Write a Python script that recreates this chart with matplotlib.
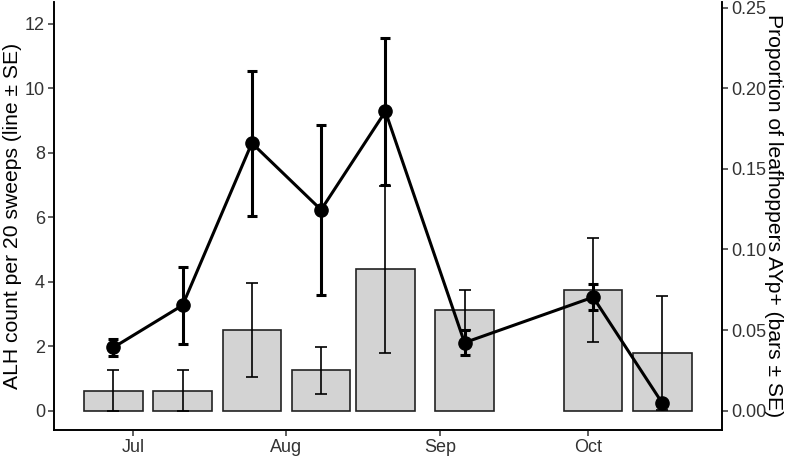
import numpy as np
import matplotlib
matplotlib.use('Agg')
import matplotlib.pyplot as plt
import matplotlib.dates as mdates

plt.rcParams['font.family'] = ['Liberation Sans', 'DejaVu Sans']

# sampling dates
dates = np.array(['2019-06-27', '2019-07-11', '2019-07-25', '2019-08-08',
                  '2019-08-21', '2019-09-06', '2019-10-02', '2019-10-16'],
                 dtype='datetime64[D]')

# ALH count per 20 sweeps (line)
alh_mean = [1.96, 3.27, 8.30, 6.23, 9.28, 2.11, 3.52, 0.23]
alh_se = [0.26, 1.20, 2.25, 2.63, 2.27, 0.38, 0.41, 0.0]

# proportion AYp+ (bars)
prop_mean = [0.0125, 0.0125, 0.050, 0.025, 0.0877, 0.0626, 0.0749, 0.036]
prop_se = [0.0125, 0.0125, 0.029, 0.0144, 0.0517, 0.0123, 0.0324, 0.0354]

tick_dates = np.array(['2019-07-01', '2019-08-01', '2019-09-01', '2019-10-01'],
                      dtype='datetime64[D]')
tick_labels = ['Jul', 'Aug', 'Sep', 'Oct']

fig = plt.figure(figsize=(7.87, 4.57), dpi=100)
ax = fig.add_axes([0.0686, 0.059, 0.8485, 0.937])
ax2 = ax.twinx()

x = mdates.date2num(dates)

# bars on the right axis
ax2.bar(x, prop_mean, width=11.8, color='#d3d3d3', edgecolor='#222222',
        linewidth=1.2, zorder=1)
ax2.errorbar(x, prop_mean, yerr=prop_se, fmt='none', ecolor='black',
             elinewidth=1.2, capsize=4, capthick=1.2, zorder=2)

# line on the left axis, drawn above the bars
ax.set_zorder(ax2.get_zorder() + 1)
ax.patch.set_visible(False)
ax.errorbar(x, alh_mean, yerr=alh_se, fmt='none', ecolor='black',
            elinewidth=2.2, capsize=3.8, capthick=2.2, zorder=3)
ax.plot(x, alh_mean, color='black', linewidth=2.2, marker='o',
        markersize=9.5, zorder=4)

ylo, yhi = -0.6, 12.68
ax.set_ylim(ylo, yhi)
ax2.set_ylim(ylo * 0.02, yhi * 0.02)
ax.set_xlim(mdates.date2num(np.datetime64('2019-06-15')),
            mdates.date2num(np.datetime64('2019-10-28')))

ax.set_yticks([0, 2, 4, 6, 8, 10, 12])
ax2.set_yticks([0.0, 0.05, 0.10, 0.15, 0.20, 0.25])
ax2.set_yticklabels(['0.00', '0.05', '0.10', '0.15', '0.20', '0.25'])
ax.set_xticks(mdates.date2num(tick_dates))
ax.set_xticklabels(tick_labels)

for a in (ax, ax2):
    a.tick_params(labelsize=13, length=4, width=1.1, color='#333333',
                  labelcolor='#333333', pad=2.5)
    a.spines['top'].set_visible(False)
    for s in ('left', 'right', 'bottom'):
        a.spines[s].set_linewidth(1.2)

ax.set_ylabel('ALH count per 20 sweeps (line ± SE)', fontsize=15.2, labelpad=2)
ax2.set_ylabel('Proportion of leafhoppers AYp+ (bars ± SE)', fontsize=15.2,
               rotation=270, labelpad=12)

fig.savefig('out.png', dpi=100)
